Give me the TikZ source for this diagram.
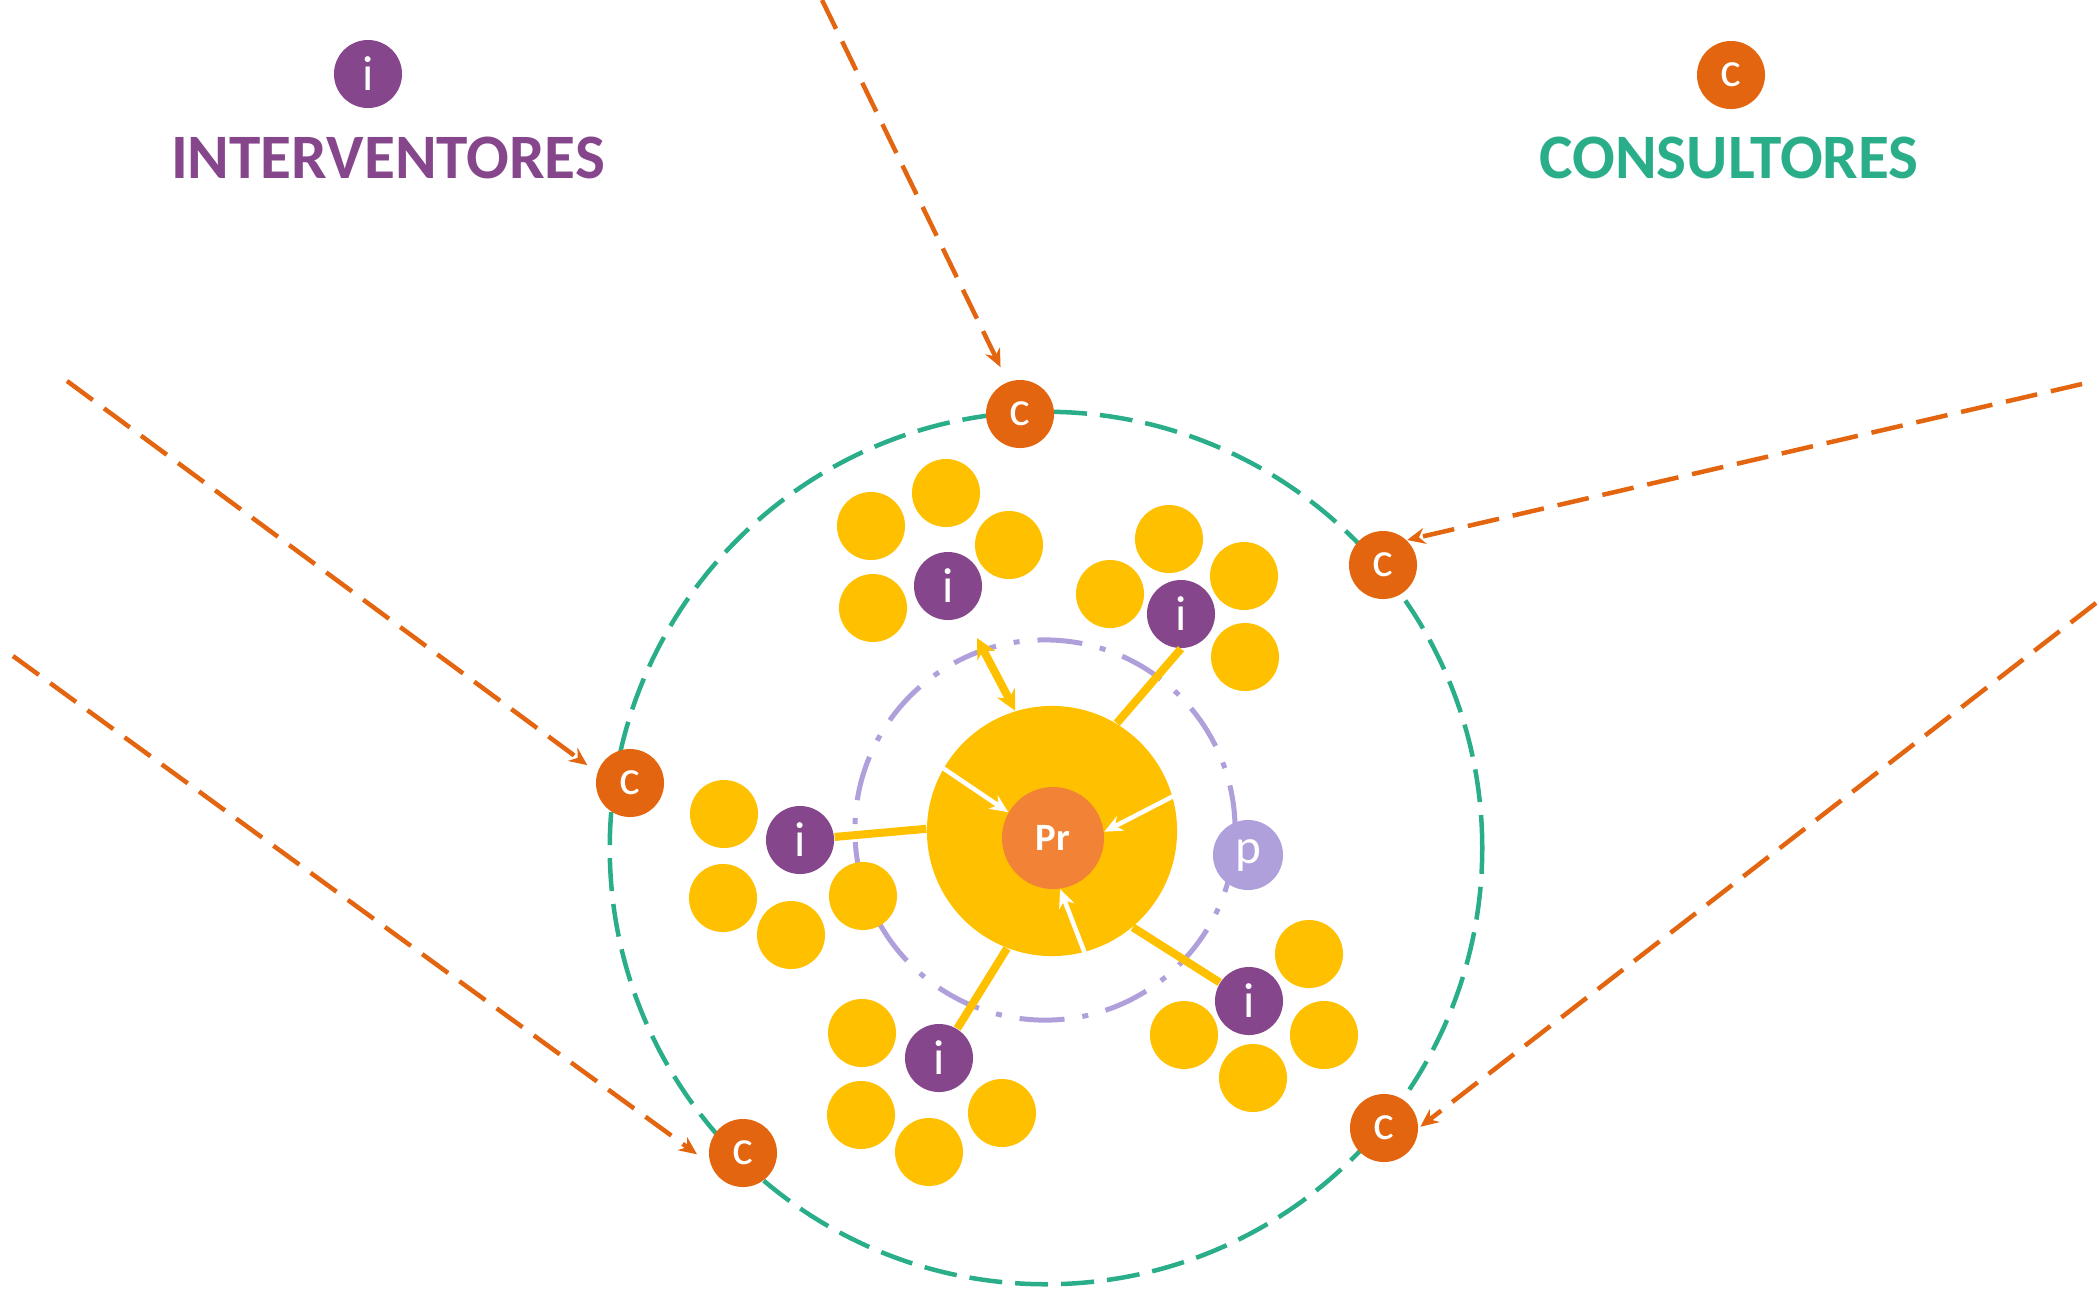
\documentclass[tikz,border=0pt]{standalone}
\usepackage{fontspec}
\setmainfont{Carlito}
\usetikzlibrary{arrows.meta}

\definecolor{interv}{RGB}{134,70,140}
\definecolor{consul}{RGB}{42,174,138}
\definecolor{corange}{RGB}{227,101,15}
\definecolor{prorange}{RGB}{242,131,54}
\definecolor{gold}{RGB}{255,192,0}
\definecolor{lavender}{RGB}{175,159,219}

\tikzset{
  bubble/.style={circle, inner sep=0pt, minimum size=0.68cm, text=white, font=\fontsize{14}{14}\selectfont},
  ibubble/.style={bubble, fill=interv},
  cbubble/.style={bubble, fill=corange},
  ybubble/.style={bubble, fill=gold},
  feed/.style={corange, line width=0.045cm, dash pattern=on 0.32cm off 0.14cm, -{Stealth[length=0.18cm,width=0.16cm]}},
  link/.style={gold, line width=0.08cm},
  pull/.style={white, line width=0.045cm, -{Stealth[length=0.18cm,width=0.16cm]}},
  title/.style={font=\fontsize{18}{18}\selectfont\bfseries}
}

\begin{document}
\begin{tikzpicture}[x=0.01cm, y=-0.01cm]
  \useasboundingbox (0,0) rectangle (2099,1296);

  % Draw the outer and inner rings
  \node[circle, minimum size=8.72cm, draw=consul, line width=0.045cm,
        dash pattern=on 0.33cm off 0.13cm] (field) at (1046,848) {};
  \node[circle, minimum size=3.8cm, draw=lavender, line width=0.05cm,
        dash pattern=on 0.45cm off 0.18cm on 0.06cm off 0.18cm] (ring) at (1045,830) {};

  % Define the legend
  \node[ibubble] (Li) at (368,74) {i};
  \node[title, text=interv] (Ti) at (388,158) {INTERVENTORES};
  \node[cbubble] (Lc) at (1731,75) {c};
  \node[title, text=consul] (Tc) at (1729,158) {CONSULTORES};

  % Draw the small circles of each group
  \foreach \x/\y [count=\k] in {871/526, 946/493, 1009/545, 873/608,
                                1169/539, 1244/576, 1110/594, 1245/657,
                                724/814, 723/898, 791/935, 863/896,
                                862/1033, 861/1115, 929/1152, 1002/1113,
                                1309/954, 1324/1035, 1184/1035, 1253/1078} {
    \node[ybubble] (Y\k) at (\x,\y) {};
  }

  % Draw the interventores
  \foreach \x/\y [count=\k] in {948/586, 1181/614, 800/840, 1249/1001, 939/1058} {
    \node[ibubble] (I\k) at (\x,\y) {i};
  }
  \node[bubble, minimum size=0.7cm, fill=lavender] (p) at (1248,855) {p};

  % Draw the project and its core
  \node[circle, minimum size=2.5cm, fill=gold] (hub) at (1052,831) {};
  \node[circle, minimum size=1.02cm, fill=prorange, text=white,
        font=\fontsize{11}{11}\selectfont\bfseries] (Pr) at (1053,838) {Pr};

  % Draw the links to the project
  \draw[link] (I2.south) -- (hub.59);
  \foreach \k/\a in {3/179, 4/310, 5/249} {
    \draw[link] (I\k) -- (hub.\a);
  }
  \coordinate (peak) at (977,638);
  \draw[link, {Stealth[length=0.2cm,width=0.2cm]}-{Stealth[length=0.2cm,width=0.2cm]}] (peak) -- (hub.107);
  \draw[pull] (hub.150) -- (Pr.150);
  \draw[pull] (hub.16) -- (Pr.7);
  \draw[pull] (hub.285) -- (Pr.278);

  % Draw the consultores on the outer ring
  \foreach \x/\y [count=\k] in {1020/414, 1383/565, 630/783, 743/1153, 1384/1128} {
    \node[cbubble] (C\k) at (\x,\y) {c};
  }

  % Draw the incoming dashed arrows
  \coordinate (F1) at (822,0);
  \coordinate (F2) at (2082,384);
  \coordinate (F3) at (67,381);
  \coordinate (F4) at (13,656);
  \coordinate (F5) at (2096,603);
  \foreach \k/\a/\s in {1/111/0.16, 2/46/0, 3/162/0.12, 4/198/0.16, 5/0/0.02} {
    \draw[feed, shorten >=\s cm] (F\k) -- (C\k.\a);
  }

\end{tikzpicture}
\end{document}
